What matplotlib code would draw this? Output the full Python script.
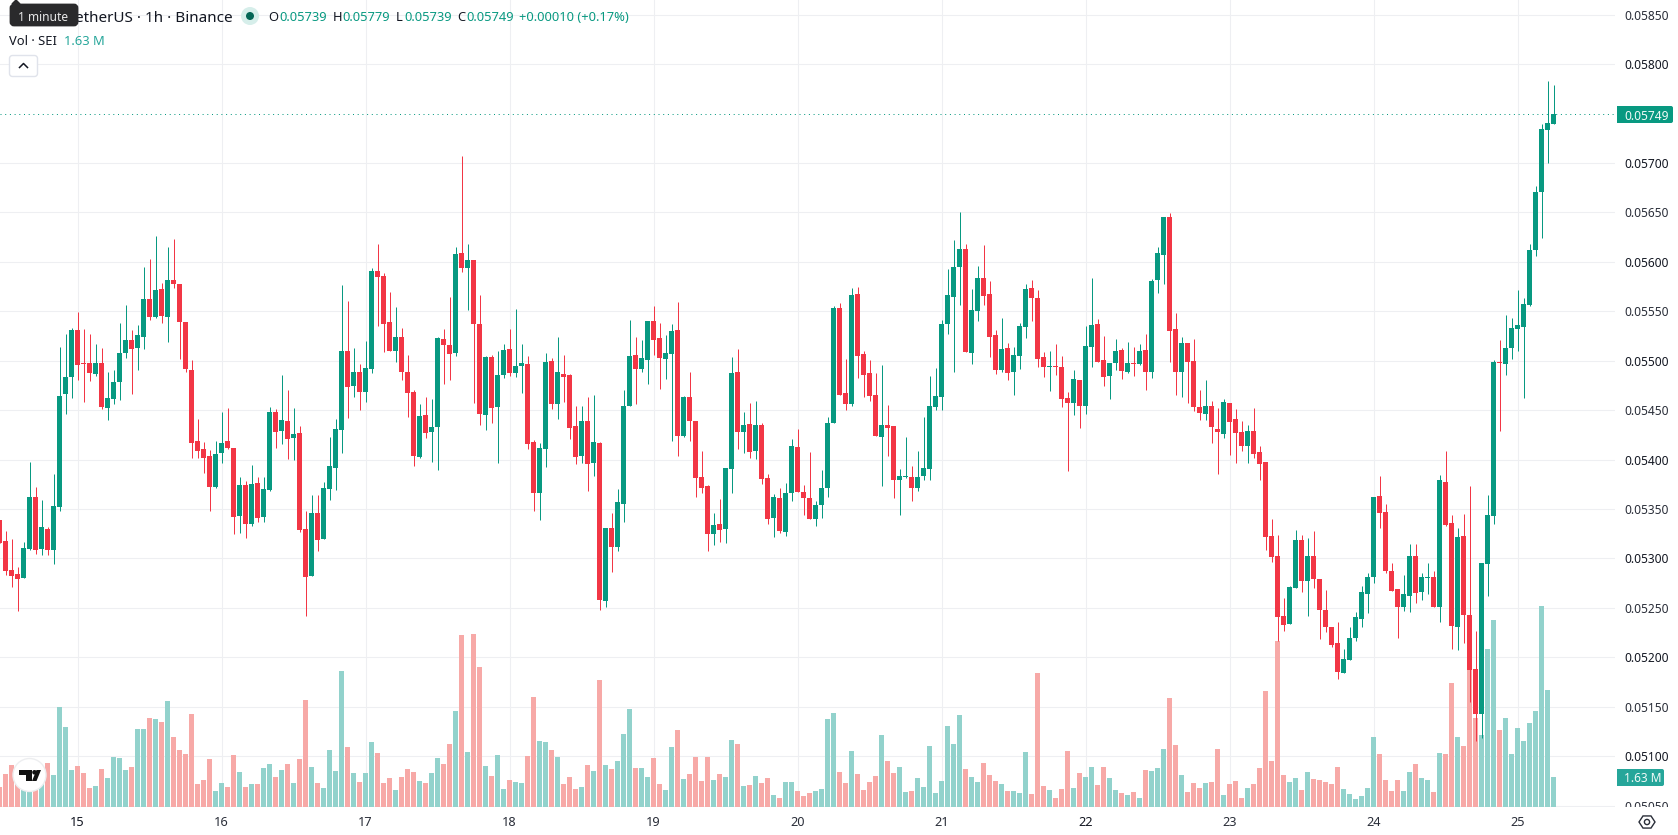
import matplotlib
matplotlib.use("Agg")
import matplotlib.pyplot as plt
import numpy as np
from matplotlib.patches import Circle, FancyBboxPatch, Polygon, Rectangle
from matplotlib.transforms import Affine2D, Bbox, blended_transform_factory

plt.rcParams["font.family"] = ["Noto Sans", "DejaVu Sans"]

# Hourly SEI/USDT candles, prices in 1e-5 units, starting 14th 11:00
opens = [
    5339,5318,5288,5284,5280,5310,5362,5310,5330,5309,
    5352,5466,5483,5531,5498,5498,5486,5498,5452,5461,
    5478,5508,5521,5513,5524,5562,5544,5572,5544,5582,
    5577,5539,5491,5419,5411,5404,5372,5407,5419,5412,
    5343,5374,5335,5376,5342,5369,5448,5429,5439,5422,
    5427,5330,5282,5346,5320,5370,5391,5430,5510,5474,
    5489,5468,5492,5591,5586,5539,5510,5524,5489,5468,
    5403,5445,5428,5433,5522,5516,5508,5609,5594,5602,
    5537,5445,5504,5453,5485,5512,5487,5495,5497,5418,
    5366,5411,5500,5456,5486,5485,5434,5404,5439,5396,
    5417,5257,5331,5312,5355,5454,5506,5492,5501,5540,
    5523,5502,5507,5531,5424,5463,5439,5382,5373,5325,
    5335,5330,5390,5488,5428,5436,5409,5435,5381,5341,
    5361,5327,5366,5413,5367,5361,5340,5354,5371,5437,
    5553,5467,5456,5567,5507,5487,5465,5423,5435,5434,
    5379,5382,5382,5371,5383,5390,5453,5463,5537,5564,
    5595,5613,5508,5550,5584,5567,5526,5491,5513,5489,
    5505,5534,5573,5563,5504,5494,5495,5494,5462,5457,
    5480,5454,5514,5537,5501,5484,5498,5511,5489,5498,
    5497,5511,5488,5582,5607,5645,5532,5489,5518,5500,
    5453,5446,5454,5431,5426,5457,5441,5428,5414,5429,
    5408,5397,5323,5302,5242,5234,5270,5319,5277,5302,
    5279,5248,5231,5214,5184,5197,5220,5239,5264,5281,
    5363,5347,5287,5269,5251,5262,5302,5266,5280,5281,
    5251,5377,5336,5231,5323,5243,5188,5143,5294,5343,
    5499,5497,5513,5532,5534,5556,5612,5671,5733,5739,
]
highs = [
    5339,5328,5320,5291,5317,5397,5372,5359,5332,5385,
    5514,5527,5533,5549,5532,5527,5517,5513,5489,5491,
    5538,5556,5531,5536,5595,5603,5626,5579,5615,5623,
    5577,5539,5501,5441,5418,5410,5419,5448,5452,5412,
    5382,5378,5394,5382,5382,5453,5451,5485,5470,5452,
    5434,5348,5364,5364,5377,5423,5441,5576,5560,5513,
    5497,5520,5594,5618,5589,5569,5554,5533,5506,5470,
    5456,5463,5461,5524,5532,5564,5615,5707,5618,5602,
    5566,5505,5506,5510,5517,5532,5552,5517,5505,5420,
    5417,5508,5503,5524,5506,5486,5454,5454,5463,5465,
    5418,5331,5346,5370,5470,5541,5524,5521,5540,5555,
    5538,5526,5537,5559,5464,5489,5439,5409,5374,5346,
    5360,5391,5504,5512,5448,5457,5459,5437,5385,5365,
    5371,5376,5421,5431,5374,5408,5358,5389,5443,5555,
    5558,5502,5573,5574,5510,5501,5487,5496,5455,5434,
    5390,5423,5393,5409,5443,5484,5493,5541,5593,5622,
    5650,5618,5572,5596,5617,5581,5531,5543,5518,5514,
    5538,5578,5582,5571,5509,5510,5517,5505,5468,5491,
    5480,5535,5584,5542,5525,5498,5522,5513,5519,5514,
    5517,5527,5583,5615,5645,5649,5548,5524,5518,5522,
    5470,5480,5459,5452,5461,5457,5451,5439,5435,5452,
    5414,5397,5340,5324,5260,5272,5329,5324,5321,5328,
    5279,5268,5231,5236,5208,5231,5246,5272,5285,5362,
    5383,5355,5295,5269,5283,5315,5315,5285,5295,5287,
    5384,5409,5344,5331,5345,5373,5227,5295,5364,5501,
    5521,5546,5543,5571,5563,5618,5677,5739,5783,5779,
]
lows = [
    5316,5283,5271,5247,5280,5308,5304,5303,5303,5294,
    5348,5446,5462,5480,5458,5479,5484,5451,5440,5456,
    5460,5503,5466,5491,5512,5541,5543,5538,5519,5573,
    5502,5488,5402,5402,5386,5348,5371,5396,5411,5325,
    5326,5321,5333,5337,5337,5368,5412,5416,5401,5400,
    5327,5242,5282,5307,5320,5359,5369,5407,5442,5463,
    5450,5458,5487,5535,5509,5510,5499,5480,5443,5393,
    5402,5422,5397,5389,5476,5480,5505,5590,5551,5457,
    5435,5430,5437,5396,5482,5484,5483,5467,5411,5348,
    5339,5392,5451,5441,5458,5421,5395,5396,5368,5383,
    5248,5251,5286,5307,5337,5454,5456,5489,5476,5506,
    5471,5481,5419,5404,5423,5419,5362,5366,5307,5314,
    5317,5316,5366,5411,5407,5402,5401,5375,5335,5322,
    5326,5323,5358,5367,5344,5340,5333,5341,5362,5437,
    5465,5450,5454,5482,5463,5459,5424,5373,5404,5361,
    5344,5381,5358,5368,5379,5379,5450,5450,5527,5489,
    5556,5509,5497,5540,5556,5504,5486,5489,5480,5465,
    5492,5523,5540,5494,5483,5469,5485,5453,5388,5445,
    5432,5446,5494,5499,5474,5461,5491,5481,5487,5484,
    5496,5470,5482,5568,5578,5499,5465,5463,5457,5449,
    5440,5440,5417,5385,5422,5405,5396,5409,5396,5402,
    5379,5308,5296,5216,5227,5234,5270,5266,5242,5270,
    5218,5226,5210,5178,5184,5197,5216,5231,5245,5275,
    5331,5285,5267,5220,5247,5246,5255,5258,5264,5251,
    5236,5333,5208,5207,5214,5155,5115,5118,5262,5335,
    5429,5485,5502,5510,5462,5555,5606,5624,5700,5739,
]
closes = [
    5316,5287,5282,5279,5311,5362,5309,5332,5308,5353,
    5464,5483,5531,5496,5497,5487,5498,5453,5462,5478,
    5508,5521,5512,5526,5562,5544,5571,5545,5582,5577,
    5539,5492,5417,5409,5402,5372,5406,5417,5412,5342,
    5374,5335,5375,5341,5370,5448,5428,5440,5421,5426,
    5329,5281,5346,5319,5371,5393,5431,5510,5473,5488,
    5468,5493,5591,5585,5537,5510,5524,5488,5467,5404,
    5444,5427,5433,5523,5516,5507,5608,5594,5602,5537,
    5446,5504,5452,5485,5511,5487,5495,5498,5416,5366,
    5412,5499,5456,5488,5483,5432,5403,5439,5395,5418,
    5258,5331,5312,5357,5454,5505,5492,5503,5540,5521,
    5503,5508,5530,5424,5463,5439,5381,5371,5325,5334,
    5329,5391,5487,5428,5435,5408,5435,5380,5340,5362,
    5328,5366,5414,5367,5361,5340,5354,5371,5437,5553,
    5465,5456,5566,5505,5485,5464,5424,5435,5432,5379,
    5383,5383,5371,5382,5391,5454,5464,5537,5566,5595,
    5613,5509,5551,5584,5565,5524,5491,5512,5487,5506,
    5535,5572,5563,5502,5494,5495,5494,5461,5457,5481,
    5454,5515,5536,5499,5483,5498,5510,5490,5498,5497,
    5510,5488,5581,5609,5645,5530,5489,5518,5499,5453,
    5447,5454,5433,5428,5458,5438,5427,5414,5429,5406,
    5395,5322,5301,5241,5233,5271,5319,5277,5302,5279,
    5248,5231,5212,5185,5198,5220,5241,5266,5281,5362,
    5346,5287,5267,5251,5264,5302,5265,5281,5281,5251,
    5379,5334,5232,5322,5243,5187,5143,5295,5344,5499,
    5498,5513,5533,5536,5557,5612,5671,5734,5740,5749,
]
# Hourly traded volume, millions of SEI
volumes = [
    1.10,1.81,2.31,2.16,1.10,1.01,1.37,1.67,2.42,1.76,
    5.49,4.39,2.03,2.25,1.87,1.04,1.15,2.09,1.59,2.75,
    2.69,2.03,2.20,4.28,4.28,4.89,4.83,4.67,5.82,3.84,
    3.13,2.91,5.11,1.26,1.48,2.64,0.88,1.32,1.10,2.85,
    1.92,1.10,1.26,1.26,2.14,2.36,1.65,2.03,2.36,1.32,
    2.64,5.87,2.20,1.32,1.04,3.13,1.98,7.47,3.29,1.87,
    1.37,1.87,3.57,2.96,1.32,1.59,0.93,1.65,2.09,1.92,
    1.43,1.32,1.87,2.69,2.36,3.46,5.27,9.44,3.02,9.50,
    7.69,2.25,1.70,2.85,0.99,1.48,1.37,1.32,2.80,6.04,
    3.62,3.57,3.13,2.75,1.26,1.65,0.99,1.10,2.31,1.98,
    6.97,2.31,2.09,2.53,4.01,5.38,2.14,2.14,1.65,2.69,
    1.26,0.93,3.29,4.23,1.54,1.81,2.75,1.43,2.75,1.48,
    1.81,1.65,3.68,3.46,1.15,1.21,1.70,1.32,1.59,0.66,
    0.49,1.37,1.37,0.88,0.60,0.77,0.88,0.99,4.83,5.16,
    1.92,1.32,3.07,1.81,0.93,1.37,1.70,3.95,2.53,1.87,
    2.20,0.82,0.88,1.59,1.10,3.35,0.77,1.43,4.45,3.46,
    5.05,2.09,1.65,1.37,2.42,1.76,1.43,1.26,0.88,0.88,
    0.77,3.02,0.71,7.36,1.15,0.93,0.49,0.99,3.07,1.04,
    1.87,1.65,2.20,1.21,2.20,1.59,0.93,0.77,0.64,0.81,
    0.48,2.01,1.96,2.12,3.17,5.97,3.39,1.74,0.81,1.30,
    1.02,1.30,1.35,3.17,0.64,1.24,1.41,0.48,1.02,1.24,
    2.12,6.35,2.51,9.10,1.74,1.35,1.57,0.92,1.90,1.52,
    1.46,1.35,1.24,2.18,0.97,0.70,0.42,0.59,1.02,3.82,
    2.89,1.46,0.86,1.46,0.86,1.90,2.34,1.57,1.46,0.81,
    2.95,2.89,6.79,3.82,3.33,7.69,4.87,3.93,8.66,10.25,
    4.21,4.87,2.89,4.32,3.61,4.59,5.25,11.07,6.41,1.63,
]
day_labels = ["15", "16", "17", "18", "19", "20", "21", "22", "23", "24", "25"]
day_start_bars = [13, 37, 61, 85, 109, 133, 157, 181, 205, 229, 253]
bold_days = ["15", "22"]
price_ticks = [5050, 5100, 5150, 5200, 5250, 5300, 5350, 5400, 5450,
               5500, 5550, 5600, 5650, 5700, 5800, 5850]
last_price = 5749
last_volume_label = "1.63 M"

UP = "#089981"
DOWN = "#F23645"
UP_VOL = "#92D2CC"
DOWN_VOL = "#F7A9A7"
GRID = "#EEEFF2"
TEXT = "#131722"
WIDTH, HEIGHT = 1678, 835
PANE_RIGHT, PANE_BOTTOM = 1615, 807

fig = plt.figure(figsize=(WIDTH / 100, HEIGHT / 100), dpi=100, facecolor="white")
ax = fig.add_axes([0, 1 - PANE_BOTTOM / HEIGHT, PANE_RIGHT / WIDTH, PANE_BOTTOM / HEIGHT])
ax.set_autoscale_on(False)
for side in ax.spines.values():
    side.set_visible(False)

# One bar every 6 px; 0.9888 px per price unit
ax.set_xlim(0.5 / 6, (PANE_RIGHT + 0.5) / 6)
ax.set_ylim(5048.6, 5864.7)

ax.set_axisbelow(True)
ax.grid(True, color=GRID, linewidth=0.75)
ax.yaxis.tick_right()
ax.set_yticks(price_ticks)
ax.set_yticklabels([f"{p / 1e5:.5f}" for p in price_ticks])
ax.tick_params(axis="y", length=0, pad=6.5, labelsize=8.6, labelcolor="#2A2E39")
ax.set_xticks(day_start_bars)
ax.set_xticklabels(day_labels)
ax.tick_params(axis="x", length=0, pad=6.5, labelsize=9.2, labelcolor="#2A2E39")

for lab, price in zip(ax.get_yticklabels(), price_ticks):
    if price % 100 == 0:
        lab.set_fontweight("bold")
        lab.set_color(TEXT)
    # The lowest price label is cut off where the time scale begins
    lab.set_clip_on(True)
    lab.set_clip_box(Bbox([[PANE_RIGHT, HEIGHT - PANE_BOTTOM], [WIDTH, HEIGHT]]))
for lab in ax.get_xticklabels():
    if lab.get_text() in bold_days:
        lab.set_fontweight("bold")
        lab.set_color(TEXT)

bars = np.arange(len(opens))
o, h, l, c = map(np.asarray, (opens, highs, lows, closes))
rising = c >= o

# Volume overlay shares the pane, scaled at 18.2 px per million
vol_span = PANE_BOTTOM / 18.2
vol_trans = blended_transform_factory(ax.transData,
                                      Affine2D().scale(1, 1 / vol_span) + ax.transAxes)
ax.bar(bars, volumes, width=5 / 6, linewidth=0, transform=vol_trans, zorder=2,
       color=[UP_VOL if r else DOWN_VOL for r in rising])

# Candles
colors = [UP if r else DOWN for r in rising]
ax.vlines(bars, l, h, colors=colors, linewidth=0.72, zorder=3)
ax.bar(bars, np.abs(c - o), bottom=np.minimum(o, c), width=5 / 6, linewidth=0,
       color=colors, zorder=4)

# Last price marker
ax.axhline(last_price, color=UP, linewidth=0.72, linestyle=(0, (1, 3.7)), zorder=5)

# Interface elements, positioned in pixels
ui = fig.add_axes([0, 0, 1, 1], facecolor="none")
ui.set_xlim(0, WIDTH)
ui.set_ylim(HEIGHT, 0)
ui.axis("off")


def pill(x0, y0, x1, y1, color, label, x_text):
    ui.add_patch(FancyBboxPatch((x0, y0), x1 - x0, y1 - y0,
                                boxstyle="round,pad=0,rounding_size=2",
                                facecolor=color, edgecolor="none", linewidth=0))
    ui.add_patch(Rectangle((x0, y0), 6, y1 - y0, color=color, linewidth=0))
    ui.text(x_text, (y0 + y1) / 2, label, color="#F2FAF8", fontsize=8.6,
            ha="left", va="center_baseline")


pill(1617, 106, 1673, 123, UP, f"{last_price / 1e5:.5f}", 1624)
pill(1617, 769, 1664, 786, "#26A69A", last_volume_label, 1624)

# Legend line
ui.text(233, 16, "SEI / TetherUS · 1h · Binance", fontsize=11, color=TEXT,
        ha="right", va="center_baseline")
ui.add_patch(Circle((250, 16), 9, color="#D6EEEA", linewidth=0))
ui.add_patch(Circle((250, 16), 4, color="#056656", linewidth=0))
ohlc = [("O", 268, "0.05739", 279), ("H", 333, "0.05779", 342),
        ("L", 396, "0.05739", 404), ("C", 457, "0.05749", 466)]
for key, xk, val, xv in ohlc:
    ui.text(xk, 16, key, fontsize=9.3, color=TEXT, ha="left", va="center_baseline")
    ui.text(xv, 16, val, fontsize=9.3, color=UP, ha="left", va="center_baseline")
ui.text(519, 16, "+0.00010 (+0.17%)", fontsize=9.3, color=UP, ha="left", va="center_baseline")
ui.text(9, 40, "Vol · SEI", fontsize=9.3, color=TEXT, ha="left", va="center_baseline")
ui.text(64, 40, last_volume_label, fontsize=9.3, color="#26A69A", ha="left", va="center_baseline")

# Tooltip over the symbol name
ui.add_patch(FancyBboxPatch((11, 5), 66, 20, boxstyle="round,pad=0,rounding_size=3",
                            facecolor="#2A2A2C", edgecolor="#2A2A2C", linewidth=2, zorder=6))
ui.add_patch(Polygon([[12, 4], [16, 0], [20, 4]], closed=True, color="#2A2A2C", zorder=6))
ui.text(43.5, 16, "1 minute", fontsize=8.6, color="#E8E8E8", ha="center",
        va="center_baseline", zorder=7)

# Collapse button
ui.add_patch(FancyBboxPatch((9.5, 55.5), 28, 21, boxstyle="round,pad=0,rounding_size=3",
                            facecolor="white", edgecolor="#E0E3EB", linewidth=1))
ui.plot([19.5, 23.5, 27.5], [67.5, 63.5, 67.5], color=TEXT, linewidth=1.1)

# Watermark badge
ui.add_patch(Circle((29.5, 775), 16.5, facecolor="white", edgecolor="#EDEEF0", linewidth=1, zorder=6))
ui.add_patch(Polygon([[19, 770], [31.5, 770], [31.5, 781], [25.5, 781], [25.5, 775], [19, 775]],
                     closed=True, color="#111111", linewidth=0, zorder=7))
ui.add_patch(Circle((34.5, 772.3), 2.3, color="#111111", linewidth=0, zorder=7))
ui.add_patch(Polygon([[36.5, 770], [41, 770], [36.5, 781], [32, 781]],
                     closed=True, color="#111111", linewidth=0, zorder=7))

# Settings icon on the time scale
angles = np.deg2rad(np.arange(0, 360, 60))
ui.add_patch(Polygon(np.column_stack([1647 + 8 * np.cos(angles), 822 + 7 * np.sin(angles)]),
                     closed=True, fill=False, edgecolor="#2A2E39", linewidth=1))
ui.add_patch(Circle((1647, 822), 2.6, fill=False, edgecolor="#2A2E39", linewidth=1))

fig.savefig("out.png", dpi=100, facecolor="white")
